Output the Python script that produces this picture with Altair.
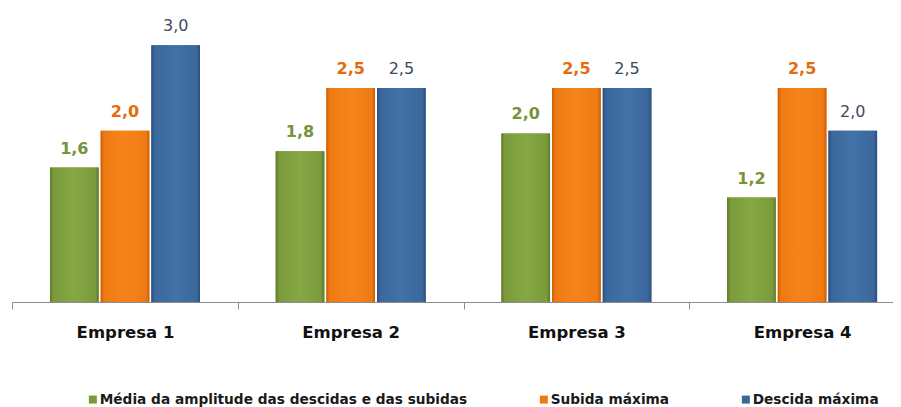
import altair as alt
import pandas as pd

empresas = ["Empresa 1", "Empresa 2", "Empresa 3", "Empresa 4"]
series = ["Média da amplitude das descidas e das subidas", "Subida máxima", "Descida máxima"]
media = [1.57, 1.76, 1.97, 1.22]
subida = [2.0, 2.5, 2.5, 2.5]
descida = [3.0, 2.5, 2.5, 2.0]

bar_colors = ["#7A9A3C", "#F07A12", "#3B679C"]
edge_colors = ["#5E7A2A", "#C85E08", "#2B4F7C"]
light_colors = ["#86A843", "#F5841C", "#4272A8"]
label_colors = ["#77933C", "#E46C0A", "#3A4B60"]
label_weights = ["bold", "bold", "normal"]

rows = []
for i, e in enumerate(empresas):
    for s, vals in zip(series, [media, subida, descida]):
        rows.append({"empresa": e, "serie": s, "valor": vals[i]})
df = pd.DataFrame(rows)

FONT = "DejaVu Sans"

x_enc = alt.X(
    "empresa:N", sort=empresas, title=None,
    scale=alt.Scale(range=[4.15, 906.95], paddingInner=0, paddingOuter=0, round=False),
    axis=alt.Axis(labelAngle=0, labelFont=FONT, labelFontWeight="bold", labelFontSize=16.5,
                  labelColor="#111111", labelBaseline="alphabetic", labelPadding=28,
                  tickBand="extent", ticks=True, tickSize=7, tickColor="#8c8c8c",
                  domainColor="#8c8c8c", domainWidth=1, grid=False),
)
xo_enc = alt.XOffset("serie:N", sort=series,
                     scale=alt.Scale(domain=series, paddingInner=0.04, paddingOuter=0.747, round=False))
y_enc = alt.Y("valor:Q", scale=alt.Scale(domain=[0, 3.435], nice=False, zero=True), axis=None)

base = alt.Chart(df)

bars = base.mark_bar().encode(
    x=x_enc, xOffset=xo_enc, y=y_enc,
    color=alt.Color("serie:N", sort=series,
                    scale=alt.Scale(domain=series, range=bar_colors),
                    legend=alt.Legend(title=None, orient="none", legendX=78, legendY=384.5,
                                      direction="horizontal", columns=3,
                                      symbolType="square", symbolSize=64, symbolStrokeWidth=0,
                                      labelFont=FONT, labelFontWeight="bold", labelFontSize=13.7,
                                      labelColor="#1a1a1a", labelOffset=0, columnPadding=69,
                                      padding=0, labelLimit=600)),
)

layers = [bars]
for s, ec, bc, lc in zip(series, edge_colors, bar_colors, light_colors):
    grad = alt.Gradient(
        gradient="linear",
        stops=[alt.GradientStop(offset=0, color=ec),
               alt.GradientStop(offset=0.07, color=bc),
               alt.GradientStop(offset=0.5, color=lc),
               alt.GradientStop(offset=0.93, color=bc),
               alt.GradientStop(offset=1, color=ec)],
        x1=0, x2=1, y1=0, y2=0,
    )
    layers.append(
        base.transform_filter(alt.datum.serie == s)
        .mark_bar(color=grad)
        .encode(x=x_enc, xOffset=xo_enc, y=y_enc)
    )

for s, c, w in zip(series, label_colors, label_weights):
    layers.append(
        base.transform_filter(alt.datum.serie == s)
        .transform_calculate(lbl="replace(format(datum.valor, '.1f'), '.', ',')")
        .mark_text(dy=-14, baseline="alphabetic", font=FONT, fontSize=16, fontWeight=w, color=c)
        .encode(x=x_enc, xOffset=xo_enc, y=y_enc, text="lbl:N")
    )

chart = alt.layer(*layers).properties(
    width=885, height=294,
    autosize=alt.AutoSizeParams(type="none"),
    padding={"left": 0, "top": 0, "right": 0, "bottom": 105},
).configure_view(stroke=None)

chart.save("out.html", embed_options={"renderer": "svg", "actions": False})
